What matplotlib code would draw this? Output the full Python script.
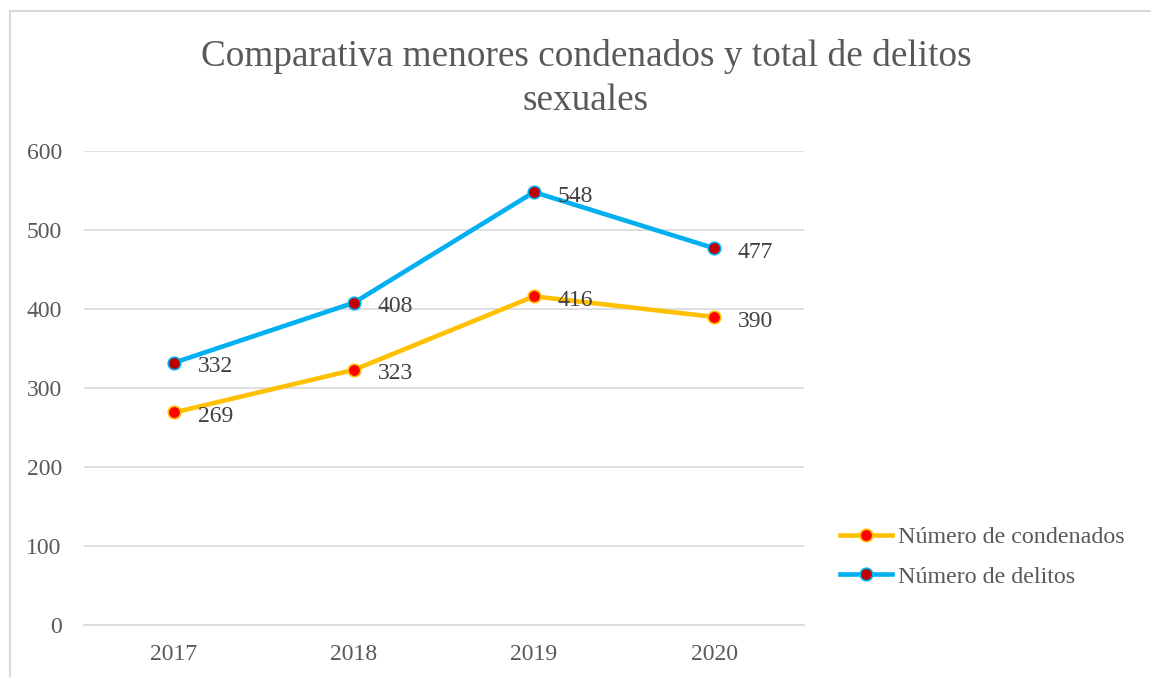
import matplotlib.pyplot as plt
from matplotlib.patches import Rectangle

years = ['2017', '2018', '2019', '2020']
condenados = [269, 323, 416, 390]
delitos = [332, 408, 548, 477]

W, H = 1151, 677
plt.rcParams['font.family'] = ['Liberation Serif', 'DejaVu Serif']

fig = plt.figure(figsize=(W / 100, H / 100), dpi=100)
fig.patches.append(Rectangle((10 / W, -0.1), 1.2, 1 - 11 / H + 0.1,
                             transform=fig.transFigure, fill=False,
                             edgecolor='#D9D9D9', linewidth=1.5))

ax = fig.add_axes([84 / W, 1 - 625 / H, 720 / W, 474 / H])
x = range(len(years))

ax.plot(x, condenados, color='#FFC000', lw=3.3, marker='o', ms=9,
        mfc='#FF0000', mec='#FFC000', mew=1.2, label='Número de condenados', zorder=3)
ax.plot(x, delitos, color='#00B0F0', lw=3.3, marker='o', ms=9,
        mfc='#C00000', mec='#00B0F0', mew=1.2, label='Número de delitos', zorder=3)

for xi, v in zip(x, condenados):
    ax.annotate(str(v), (xi, v), xytext=(17, -3), textcoords='offset points',
                ha='left', va='center', fontsize=17, color='#404040')
for xi, v in zip(x, delitos):
    ax.annotate(str(v), (xi, v), xytext=(17, -3), textcoords='offset points',
                ha='left', va='center', fontsize=17, color='#404040')

ax.set_xlim(-0.5, 3.5)
ax.set_ylim(0, 600)
ax.set_yticks(range(0, 601, 100))
ax.set_xticks(list(x))
ax.set_xticklabels(years)
ax.grid(axis='y', color='#D9D9D9', lw=1.2)
ax.set_axisbelow(True)
for s in ['top', 'right', 'left']:
    ax.spines[s].set_visible(False)
ax.spines['bottom'].set_color('#D9D9D9')
ax.spines['bottom'].set_linewidth(1.2)
ax.tick_params(length=0, labelsize=17, labelcolor='#595959')
ax.tick_params(axis='x', pad=14)
ax.tick_params(axis='y', pad=16)

fig.text(586 / W, 1 - 56 / H, 'Comparativa menores condenados y total de delitos',
         ha='center', va='center', fontsize=26.8, color='#595959')
fig.text(586 / W, 1 - 101 / H, 'sexuales', ha='center', va='center',
         fontsize=26.8, color='#595959')

fig.legend(loc='center left', bbox_to_anchor=(818 / W, 1 - 557 / H), frameon=False,
           fontsize=17.3, labelcolor='#595959', handlelength=2.2, handletextpad=0.25,
           labelspacing=0.75)

fig.savefig('out.png', dpi=100)
